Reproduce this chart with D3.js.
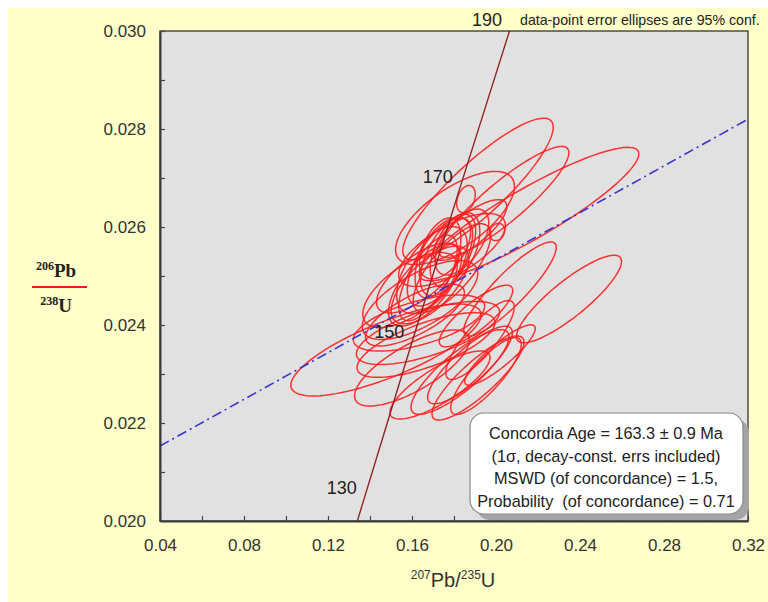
<!DOCTYPE html>
<html><head><meta charset="utf-8">
<script src="https://cdn.jsdelivr.net/npm/d3@7"></script>
<style>body{margin:0;background:#fff}</style>
</head><body><svg id="c" width="768" height="602"></svg>
<script>
// ---------- data ----------
const xTickValues = [0.04, 0.08, 0.12, 0.16, 0.20, 0.24, 0.28, 0.32];
const yTickValues = [0.020, 0.022, 0.024, 0.026, 0.028, 0.030];
const concordiaAge = [127, 130, 150, 170, 190, 191];
const concordiaX = [0.13324, 0.13659, 0.15920, 0.18226, 0.20576, 0.20699];
const concordiaY = [0.019896, 0.02037, 0.023542, 0.026722, 0.02991, 0.030072];
const labeledAges = [130, 150, 170, 190];
const refLineX = [0.04, 0.32];
const refLineY = [0.02153, 0.02820];
// error ellipses: centre, tip of major axis (data units), minor/major ratio
const ellCenterX = [0.19143,0.20381,0.21571,0.18048,0.18571,0.20048,0.18762,0.17905,0.17333,0.17714,0.16952,0.18048,0.16762,0.17571,0.17905,0.18381,0.16619,0.17238,0.15905,0.16381,0.16857,0.16143,0.16286,0.14762,0.16333,0.16762,0.16667,0.16000,0.18286,0.19143,0.19524,0.17333,0.18762,0.23476,0.20667,0.19048,0.19238,0.20190];
const ellCenterY = [0.026776,0.02651,0.026265,0.026184,0.026571,0.025898,0.025939,0.025531,0.025286,0.025429,0.025122,0.025531,0.024959,0.025571,0.025163,0.025694,0.024816,0.025367,0.024714,0.02451,0.024816,0.024204,0.024959,0.02349,0.024041,0.023837,0.023592,0.023122,0.023041,0.022918,0.022959,0.022776,0.023184,0.024531,0.024735,0.024184,0.023694,0.023388];
const ellTipX = [0.22624,0.23410,0.26767,0.20762,0.18800,0.20262,0.20452,0.20381,0.18595,0.18719,0.18319,0.18852,0.17905,0.18529,0.19590,0.19419,0.18152,0.17924,0.18048,0.19062,0.18543,0.18457,0.18162,0.19267,0.19448,0.20157,0.19933,0.18681,0.20548,0.21267,0.21119,0.19676,0.20710,0.25919,0.22800,0.20748,0.20771,0.21833];
const ellTipY = [0.028167,0.0276,0.027551,0.0270,0.026841,0.026057,0.026504,0.026143,0.026151,0.026239,0.025959,0.026271,0.025808,0.026157,0.026022,0.026329,0.025598,0.026173,0.025359,0.025173,0.025539,0.024731,0.025588,0.024269,0.024422,0.02431,0.024102,0.023786,0.023855,0.023737,0.023716,0.023402,0.023935,0.025378,0.025667,0.024773,0.024476,0.023978];
const ellRatio = [0.26,0.24,0.20,0.42,0.60,0.80,0.35,0.40,0.45,0.45,0.50,0.50,0.40,0.55,0.38,0.50,0.45,0.45,0.45,0.40,0.45,0.35,0.42,0.27,0.32,0.30,0.30,0.35,0.30,0.28,0.30,0.30,0.30,0.27,0.25,0.30,0.30,0.25];
const infoLines = ["Concordia Age = 163.3 \u00b1 0.9 Ma", "(1\u03c3, decay-const. errs included)", "MSWD (of concordance) = 1.5,", "Probability  (of concordance) = 0.71"];

// ---------- layout ----------
const svg = d3.select("#c");
const L = 160, R = 748, T = 31, B = 521;
const x = d3.scaleLinear().domain([0.04, 0.32]).range([L, R]);
const y = d3.scaleLinear().domain([0.020, 0.030]).range([B, T]);

svg.append("rect").attr("x", 8).attr("y", 8).attr("width", 760).attr("height", 594).attr("fill", "#ffffc9");
svg.append("rect").attr("x", L).attr("y", T).attr("width", R - L).attr("height", B - T).attr("fill", "#e1e1e1");

svg.append("defs").append("clipPath").attr("id", "clip")
  .append("rect").attr("x", L).attr("y", T).attr("width", R - L).attr("height", B - T);
const plot = svg.append("g").attr("clip-path", "url(#clip)");

// ellipses
const ellipseLine = d3.line().curve(d3.curveLinearClosed);
const ellipses = ellCenterX.map((cx, i) => {
  const c = [x(cx), y(ellCenterY[i])];
  const t = [x(ellTipX[i]), y(ellTipY[i])];
  const u = [t[0] - c[0], t[1] - c[1]];
  const v = [-u[1] * ellRatio[i], u[0] * ellRatio[i]];
  return d3.range(90).map(k => {
    const a = k / 90 * 2 * Math.PI;
    return [c[0] + u[0] * Math.cos(a) + v[0] * Math.sin(a), c[1] + u[1] * Math.cos(a) + v[1] * Math.sin(a)];
  });
});
plot.selectAll("path.ell").data(ellipses).join("path").attr("class", "ell")
  .attr("d", ellipseLine).attr("fill", "none").attr("stroke", "#ff1f1f").attr("stroke-width", 1.5).attr("stroke-opacity", 0.9);

// reference (blue dash-dot) line
plot.append("path")
  .attr("d", d3.line()(refLineX.map((v, i) => [x(v), y(refLineY[i])])))
  .attr("fill", "none").attr("stroke", "#3535d0").attr("stroke-width", 1.6).attr("stroke-dasharray", "10,4,2,4");

// concordia
plot.append("path")
  .attr("d", d3.line()(concordiaX.map((v, i) => [x(v), y(concordiaY[i])])))
  .attr("fill", "none").attr("stroke", "#8e2323").attr("stroke-width", 1.4);

// age labels
labeledAges.forEach(a => {
  const i = concordiaAge.indexOf(a);
  svg.append("text").attr("x", x(concordiaX[i]) - 21).attr("y", y(concordiaY[i]) - 9)
    .attr("text-anchor", "middle").attr("font-family", "Liberation Sans, Arial, sans-serif")
    .attr("font-size", 18).attr("fill", "#222").text(a);
});

// border
svg.append("rect").attr("x", L).attr("y", T).attr("width", R - L).attr("height", B - T)
  .attr("fill", "none").attr("stroke", "#333").attr("stroke-width", 1.3);

// axes
const xMinor = d3.range(0, 15).map(k => 0.04 + k * 0.02);
const yMinor = d3.range(0, 11).map(k => 0.020 + k * 0.001);
const isMajorX = v => xTickValues.some(t => Math.abs(t - v) < 1e-9);
const isMajorY = v => yTickValues.some(t => Math.abs(t - v) < 1e-9);
const gx = svg.append("g").attr("transform", `translate(0,${B})`)
  .call(d3.axisBottom(x).tickValues(xMinor).tickSizeInner(-5).tickSizeOuter(0).tickPadding(18)
    .tickFormat(v => isMajorX(v) ? d3.format(".2f")(v) : ""));
const gy = svg.append("g").attr("transform", `translate(${L},0)`)
  .call(d3.axisLeft(y).tickValues(yMinor).tickSizeInner(-5).tickSizeOuter(0).tickPadding(14)
    .tickFormat(v => isMajorY(v) ? d3.format(".3f")(v) : ""));
[gx, gy].forEach(g => {
  g.select(".domain").attr("stroke", "#3a3a3a").attr("stroke-width", 2);
  g.selectAll(".tick line").attr("stroke", "#444").attr("stroke-width", 1.2);
  g.selectAll("text").attr("font-family", "Liberation Sans, Arial, sans-serif").attr("font-size", 17).attr("fill", "#333");
});

// x title
const xt = svg.append("text").attr("x", 453).attr("y", 587).attr("text-anchor", "middle")
  .attr("font-family", "Liberation Sans, Arial, sans-serif").attr("font-size", 20).attr("fill", "#333");
xt.append("tspan").attr("font-size", 12).attr("dy", -8).text("207");
xt.append("tspan").attr("dy", 8).text("Pb/");
xt.append("tspan").attr("font-size", 12).attr("dy", -8).text("235");
xt.append("tspan").attr("dy", 8).text("U");

// y title (fraction)
const yt1 = svg.append("text").attr("x", 56).attr("y", 277).attr("text-anchor", "middle")
  .attr("font-family", "Liberation Serif, Times New Roman, serif").attr("font-weight", "bold").attr("font-size", 19).attr("fill", "#222");
yt1.append("tspan").attr("font-size", 12).attr("dy", -7).text("206");
yt1.append("tspan").attr("dy", 7).text("Pb");
svg.append("line").attr("x1", 32).attr("x2", 87).attr("y1", 287).attr("y2", 287).attr("stroke", "#ee1c1c").attr("stroke-width", 2);
const yt2 = svg.append("text").attr("x", 56).attr("y", 312).attr("text-anchor", "middle")
  .attr("font-family", "Liberation Serif, Times New Roman, serif").attr("font-weight", "bold").attr("font-size", 19).attr("fill", "#222");
yt2.append("tspan").attr("font-size", 12).attr("dy", -7).text("238");
yt2.append("tspan").attr("dy", 7).text("U");

// top note
svg.append("text").attr("x", 520).attr("y", 25).attr("font-family", "Liberation Sans, Arial, sans-serif")
  .attr("font-size", 14.2).attr("fill", "#222").text("data-point error ellipses are 95% conf.");

// info box
svg.append("rect").attr("x", 476).attr("y", 419).attr("width", 273).attr("height", 101).attr("rx", 14)
  .attr("fill", "#a4a4a4");
svg.append("rect").attr("x", 470).attr("y", 413).attr("width", 273).attr("height", 101).attr("rx", 14)
  .attr("fill", "#fff").attr("stroke", "#8a8a8a").attr("stroke-width", 1.2);
svg.selectAll("text.info").data(infoLines).join("text").attr("class", "info")
  .attr("x", 606).attr("y", (d, i) => 439 + i * 22.5).attr("text-anchor", "middle")
  .attr("font-family", "Liberation Sans, Arial, sans-serif").attr("font-size", 16.3).attr("fill", "#222")
  .style("white-space", "pre").text(d => d);
</script></body></html>
